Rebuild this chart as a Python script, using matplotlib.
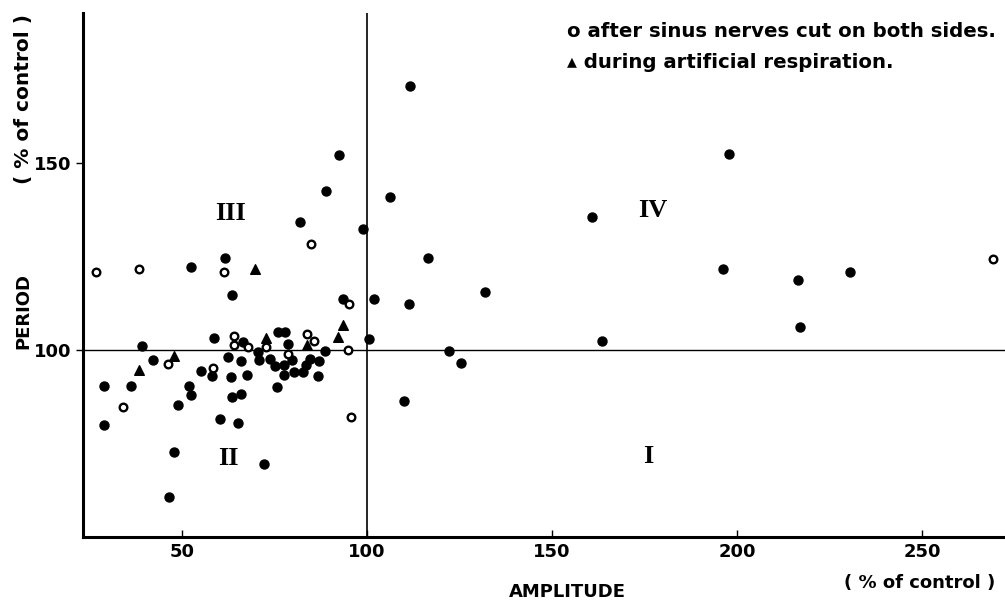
import matplotlib
matplotlib.use("Agg")
import matplotlib.pyplot as plt

# filled dots: control data (amplitude %, period %)
amp_dot = [61.6, 52.3, 63.4, 93.6, 101.8, 100.5, 39.2, 58.6, 66.5, 75.8,
           77.8, 78.7, 70.6, 88.7, 42.0, 62.3, 65.9, 70.7, 73.7, 75.0,
           77.6, 79.8, 84.6, 86.9, 83.6, 82.6, 80.3, 77.6, 86.6, 67.4,
           63.1, 58.1, 55.0, 75.6, 36.2, 28.9, 51.8, 52.5, 48.8, 63.5,
           65.8, 60.1, 65.0, 28.8, 47.7, 72.2, 46.4, 92.4, 89.0, 106.3,
           81.9, 98.9, 111.7, 160.9, 116.5, 111.3, 131.8, 122.0, 125.4, 110.0,
           163.6, 197.7, 196.2, 216.4, 230.4, 217.0]
per_dot = [124.7, 122.2, 114.6, 113.5, 113.7, 103.0, 101.0, 103.3, 102.1, 104.7,
           104.8, 101.6, 99.5, 99.8, 97.4, 98.2, 97.1, 97.2, 97.5, 95.7,
           95.9, 97.3, 97.6, 97.1, 95.9, 94.1, 94.1, 93.2, 93.0, 93.4,
           92.9, 93.0, 94.4, 90.2, 90.3, 90.5, 90.5, 88.0, 85.4, 87.3,
           88.3, 81.5, 80.4, 79.9, 72.6, 69.4, 60.8, 152.2, 142.5, 140.9,
           134.2, 132.3, 170.7, 135.6, 124.7, 112.4, 115.5, 99.7, 96.5, 86.3,
           102.5, 152.3, 121.7, 118.6, 120.9, 106.2]

# open circles: after sinus nerves cut on both sides
amp_open = [26.8, 38.3, 61.4, 95.0, 64.1, 64.1, 67.9, 72.6, 83.7, 85.7,
            94.7, 78.5, 58.3, 46.2, 34.0, 95.7, 84.7, 269.2]
per_open = [120.8, 121.6, 120.9, 112.2, 103.7, 101.3, 100.7, 100.8, 104.3, 102.5,
            99.9, 98.8, 95.3, 96.3, 84.8, 82.2, 128.4, 124.4]

# triangles: during artificial respiration
amp_tri = [69.8, 93.4, 92.0, 72.6, 83.7, 47.9, 38.2]
per_tri = [121.6, 106.8, 103.5, 103.1, 101.2, 98.4, 94.6]

x_ticks = [50, 100, 150, 200, 250]
y_ticks = [100, 150]

quadrants = ["III", "II", "IV", "I"]
quad_x = [63.1, 62.4, 177.2, 176.0]
quad_y = [136.6, 71.1, 137.2, 71.5]

lab = dict(family="DejaVu Sans", fontweight="bold", fontsize=13)

fig = plt.figure(figsize=(10.05, 6.02), dpi=100)
ax = fig.add_axes([0.0826, 0.108, 0.9174, 0.8704])
ax.set_xlim(23.2, 272.4)
ax.set_ylim(50, 190.1)

ax.axvline(100, color="black", lw=1.2)
ax.axhline(100, color="black", lw=1.0)

ax.scatter(amp_dot, per_dot, s=42, color="black", zorder=3)
ax.scatter(amp_open, per_open, s=30, facecolors="white", edgecolors="black",
           linewidths=1.7, zorder=3)
ax.scatter(amp_tri, per_tri, s=48, marker="^", color="black", zorder=3)

for t, x, y in zip(quadrants, quad_x, quad_y):
    ax.text(x, y, t, family="Liberation Serif", fontweight="bold", fontsize=19,
            ha="center", va="center")

for s in ["top", "right"]:
    ax.spines[s].set_visible(False)
ax.spines["left"].set_linewidth(2.2)
ax.spines["bottom"].set_linewidth(2.2)

ax.set_xticks(x_ticks)
ax.set_xticklabels([str(v) for v in x_ticks], **lab)
ax.set_yticks(y_ticks)
ax.set_yticklabels([str(v) for v in y_ticks], **lab)
ax.tick_params(axis="x", direction="in", length=5, width=1, pad=4)
ax.tick_params(axis="y", direction="out", length=5, width=1, pad=3)

fig.text(0.565, 0.017, "AMPLITUDE", ha="center", va="center", **lab)
fig.text(0.915, 0.032, "( % of control )", ha="center", va="center", **lab)
fig.text(0.023, 0.483, "PERIOD", rotation=90, ha="center", va="center", **lab)
fig.text(0.023, 0.835, "( % of control )", rotation=90, ha="center", va="center",
         family="DejaVu Sans", fontweight="bold", fontsize=14.5)

ax.text(0.525, 0.965, "o after sinus nerves cut on both sides.", transform=ax.transAxes,
        ha="left", va="center", family="DejaVu Sans", fontweight="bold", fontsize=14.2)
ax.text(0.525, 0.905, "\u25b4 during artificial respiration.", transform=ax.transAxes,
        ha="left", va="center", family="DejaVu Sans", fontweight="bold", fontsize=14.2)

fig.savefig("out.png", dpi=100)
